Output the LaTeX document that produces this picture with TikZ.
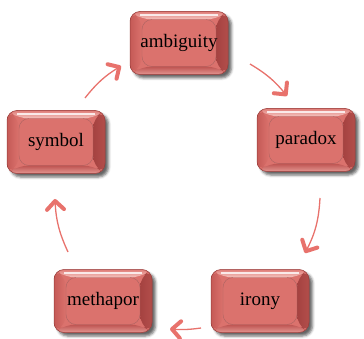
\documentclass[tikz,border=0pt]{standalone}
\usepackage{fontspec}
\setmainfont{Liberation Serif}
\usetikzlibrary{arrows.meta,shadows.blur}
\definecolor{face}{RGB}{219,114,109}
\definecolor{bevtop}{RGB}{240,172,166}
\definecolor{bevleft}{RGB}{205,96,92}
\definecolor{bevright}{RGB}{165,66,64}
\definecolor{bevbot}{RGB}{190,84,81}
\definecolor{edge}{RGB}{150,60,58}
\definecolor{arrowred}{RGB}{232,114,108}
\tikzset{
  bevelbox/.style={rounded corners=10pt, minimum width=98pt, minimum height=63pt,
    inner sep=0pt, fill=face, draw=edge, line width=0.5pt,
    blur shadow={shadow xshift=3.5pt, shadow yshift=-3.5pt, shadow blur radius=2.5pt, shadow opacity=60},
    font=\fontsize{19}{22}\selectfont,
    path picture={
      \coordinate (NW) at (path picture bounding box.north west);
      \coordinate (NE) at (path picture bounding box.north east);
      \coordinate (SW) at (path picture bounding box.south west);
      \coordinate (SE) at (path picture bounding box.south east);
      \shade[top color=face!80!bevtop, bottom color=bevtop!70!white] (NW) -- (NE) -- ([shift={(-12pt,-8pt)}]NE) -- ([shift={(12pt,-8pt)}]NW) -- cycle;
      \shade[top color=bevbot, bottom color=face!75!white] (SW) -- (SE) -- ([shift={(-12pt,8pt)}]SE) -- ([shift={(12pt,8pt)}]SW) -- cycle;
      \shade[left color=bevleft!80!bevright, right color=face] (NW) -- ([shift={(12pt,-8pt)}]NW) -- ([shift={(12pt,8pt)}]SW) -- (SW) -- cycle;
      \shade[left color=bevright, right color=bevright!75!face] (NE) -- ([shift={(-12pt,-8pt)}]NE) -- ([shift={(-12pt,8pt)}]SE) -- (SE) -- cycle;
      \draw[white, opacity=0.8, line width=1.3pt] ([shift={(10pt,-3.5pt)}]NW) -- ([shift={(-10pt,-3.5pt)}]NE);
      \draw[edge!80, line width=0.4pt] ([shift={(12pt,-8pt)}]NW) rectangle ([shift={(-12pt,8pt)}]SE);
    }},
  arr/.style={draw=arrowred, line width=1.3pt,
    -{Straight Barb[length=8.5pt,width=17pt,line width=4pt,round]}}
}
\begin{document}
\begin{tikzpicture}[x=1pt,y=-1pt]
\useasboundingbox (0,0) rectangle (364,339);
\node[bevelbox] (ambiguity) at (179,43) {\raisebox{-3pt}{ambiguity}};
\node[bevelbox] (paradox) at (306,140) {\raisebox{-3pt}{paradox}};
\node[bevelbox] (symbol) at (56,142) {\raisebox{-3pt}{symbol}};
\node[bevelbox] (methapor) at (103,301) {\raisebox{-3pt}{methapor}};
\node[bevelbox] (irony) at (260,301) {\raisebox{-3pt}{irony}};
\coordinate (ambParStart) at (250,64);
\coordinate (ambParEnd) at (287,96);
\coordinate (parIroStart) at (320,198);
\coordinate (parIroEnd) at (305,253);
\coordinate (iroMetStart) at (201,328);
\coordinate (iroMetEnd) at (170,329);
\coordinate (metSymStart) at (68,252);
\coordinate (metSymEnd) at (55,199);
\coordinate (symAmbStart) at (85,98);
\coordinate (symAmbEnd) at (121,66);
\draw[arr] (ambParStart) to[bend left=10] (ambParEnd);
\draw[arr] (parIroStart) to[bend left=12] (parIroEnd);
\draw[arr] (iroMetStart) to[bend left=6] (iroMetEnd);
\draw[arr] (metSymStart) to[bend left=11] (metSymEnd);
\draw[arr] (symAmbStart) to[bend left=10] (symAmbEnd);
\end{tikzpicture}
\end{document}
